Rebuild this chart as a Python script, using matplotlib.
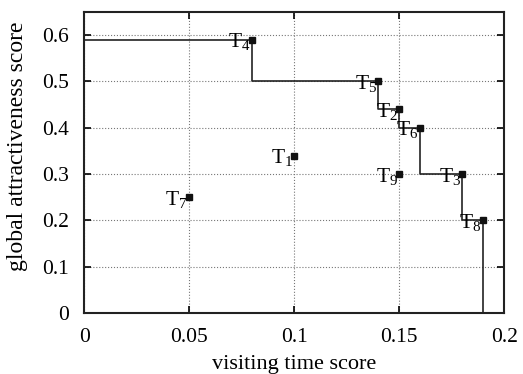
import numpy as np
import matplotlib
matplotlib.use("Agg")
import matplotlib.pyplot as plt

plt.rcParams['font.family'] = ['Liberation Serif', 'DejaVu Serif']
plt.rcParams['mathtext.fontset'] = 'custom'
plt.rcParams['mathtext.rm'] = 'Liberation Serif'
plt.rcParams['mathtext.it'] = 'Liberation Serif:italic'

# 各景点的得分
names = ['T1', 'T2', 'T3', 'T4', 'T5', 'T6', 'T7', 'T8', 'T9']
time_score = [0.10, 0.15, 0.18, 0.08, 0.14, 0.16, 0.05, 0.19, 0.15]
attract_score = [0.34, 0.44, 0.30, 0.59, 0.50, 0.40, 0.25, 0.20, 0.30]

# Pareto 前沿上的点（按 x 排序）
front = ['T4', 'T5', 'T2', 'T6', 'T3', 'T8']

fig = plt.figure(figsize=(5.23, 3.74), dpi=100)
ax = fig.add_axes([0.161, 0.163, 0.803, 0.805])

idx = [names.index(n) for n in front]
fx = [0.0] + [time_score[i] for i in idx]
fy = [attract_score[i] for i in idx] + [0.0]
ax.step(fx, fy, where='post', color='#222222', lw=1.2, zorder=3)

ax.plot(time_score, attract_score, 's', color='#111111', ms=4, zorder=4)

for n, x, y in zip(names, time_score, attract_score):
    ax.annotate(r'T$_{%s}$' % n[1:], (x, y), xytext=(-1, 6),
                textcoords='offset points', ha='right', va='top',
                fontsize=15.5, zorder=5)

ax.set_xlim(0, 0.2)
ax.set_ylim(0, 0.65)
ax.set_xticks([0, 0.05, 0.1, 0.15, 0.2])
ax.set_xticklabels(['0', '0.05', '0.1', '0.15', '0.2'])
ax.set_yticks(np.arange(0, 0.61, 0.1))
ax.set_yticklabels(['0', '0.1', '0.2', '0.3', '0.4', '0.5', '0.6'])
ax.tick_params(direction='in', top=True, right=True, labelsize=15.5,
               length=5, width=1.2)
ax.tick_params(axis='x', pad=11)
ax.tick_params(axis='y', pad=11)
ax.grid(True, linestyle=':', color='#777777', lw=0.8)
for s in ax.spines.values():
    s.set_linewidth(1.5)
    s.set_color('#222222')

ax.set_xlabel('visiting time score', fontsize=16)
ax.xaxis.set_label_coords(0.5, -0.14)
ax.set_ylabel('global attractiveness score', fontsize=17)
ax.yaxis.set_label_coords(-0.135, 0.555)

fig.savefig('out.png', dpi=100)
